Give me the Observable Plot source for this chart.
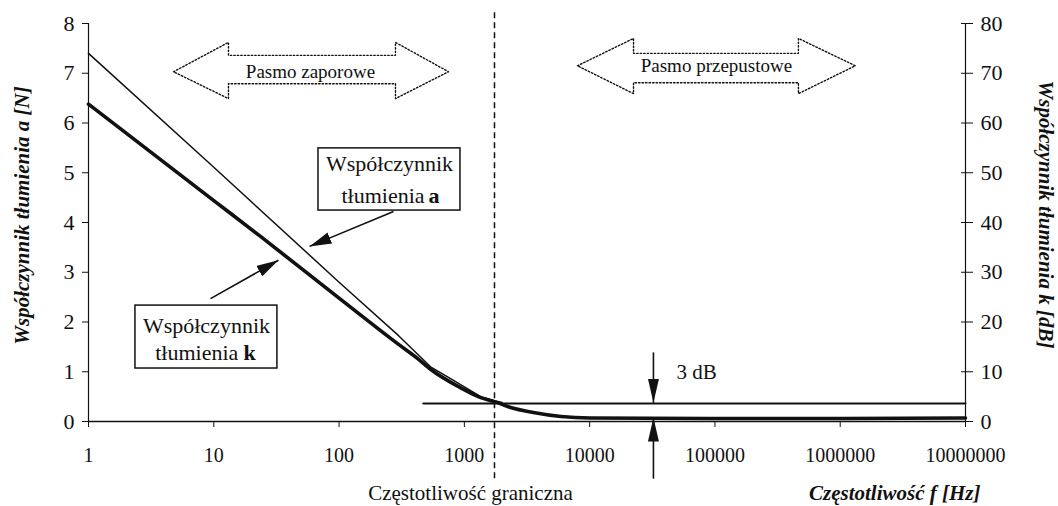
<!DOCTYPE html>
<html><head><meta charset="utf-8">
<script src="https://cdn.jsdelivr.net/npm/d3@7"></script>
<script src="https://cdn.jsdelivr.net/npm/@observablehq/plot@0.6"></script>
<style>body{margin:0;background:#fff} svg{display:block}</style>
</head><body><div id="chart"></div>
<script>
// ---- data ----
const xTicks = [1, 10, 100, 1000, 10000, 100000, 1000000, 10000000];
const yTicksLeft = [0, 1, 2, 3, 4, 5, 6, 7, 8];
const yTicksRight = [0, 10, 20, 30, 40, 50, 60, 70, 80];

// Współczynnik tłumienia a (thin line)
const freqA = [1, 10, 100, 300, 537, 776, 1350, 1740, 2000];
const valA  = [7.4, 5.11, 2.8, 1.72, 1.1, 0.86, 0.5, 0.42, 0.38];

// Współczynnik tłumienia k (thick line)
const freqK = [1, 10, 23.6, 100, 295, 427, 537, 930, 1350, 1740, 2340, 3550, 5900, 10000, 100000, 1000000, 10000000];
const valK  = [6.38, 4.44, 3.72, 2.48, 1.56, 1.26, 1.05, 0.68, 0.48, 0.4, 0.28, 0.18, 0.1, 0.07, 0.06, 0.06, 0.07];

// 3 dB reference line
const freq3dB = [470, 10000000];
const val3dB  = [0.36, 0.36];

// cut-off frequency
const cutoffFreq = 1740;

// ---- annotations (data units) ----
const bandNames = ["Pasmo zaporowe", "Pasmo przepustowe"];
const bandTipL  = [4.77, 7990];
const bandBaseL = [13.1, 22400];
const bandBaseR = [282, 464000];
const bandTipR  = [747, 1320000];
const bandMid   = [7.03, 7.15];
const bandHeadTop = [7.62, 7.70];
const bandHeadBot = [6.49, 6.59];
const bandShaftTop = [7.36, 7.40];
const bandShaftBot = [6.79, 6.81];
const bandTextX = [59.1, 102800];

const boxX1 = [68.5, 2.37], boxX2 = [931, 32.2], boxY1 = [4.24, 1.065], boxY2 = [5.49, 2.33];
const boxLine1X = [253, 8.74], boxLine1Y = [5.17, 1.93];
const boxWordEndX = [481, 15.7], boxLetterX = [517, 17.3], boxLine2Y = [4.54, 1.387];
const boxLetters = ["a", "k"];

const arrowFromX = [272, 9.42], arrowFromY = [4.22, 2.47];
const arrowToX = [58.1, 32.8], arrowToY = [3.52, 3.24];

const dbArrowX = 32300;
const dbArrowFromY = [1.39, -1.15];
const dbArrowToY = [0.375, 0.08];
const dbTextX = 49300, dbTextY = 0.985;
const dashY1 = -1.15, dashY2 = 8.26;

// ---- build tables ----
const lineA = freqA.map((f, i) => ({f, v: valA[i]}));
const lineK = freqK.map((f, i) => ({f, v: valK[i]}));
const line3 = freq3dB.map((f, i) => ({f, v: val3dB[i]}));

const bandPts = [];
bandNames.forEach((name, i) => {
  const pts = [
    [bandTipL[i], bandMid[i]], [bandBaseL[i], bandHeadTop[i]], [bandBaseL[i], bandShaftTop[i]],
    [bandBaseR[i], bandShaftTop[i]], [bandBaseR[i], bandHeadTop[i]], [bandTipR[i], bandMid[i]],
    [bandBaseR[i], bandHeadBot[i]], [bandBaseR[i], bandShaftBot[i]], [bandBaseL[i], bandShaftBot[i]],
    [bandBaseL[i], bandHeadBot[i]], [bandTipL[i], bandMid[i]]
  ];
  pts.forEach(([x, y]) => bandPts.push({band: name, x, y}));
});
const bandText = bandNames.map((t, i) => ({t, x: bandTextX[i], y: bandMid[i]}));
const boxes = boxX1.map((_, i) => ({x1: boxX1[i], x2: boxX2[i], y1: boxY1[i], y2: boxY2[i]}));
const line1 = boxLine1X.map((x, i) => ({x, y: boxLine1Y[i], t: "Współczynnik"}));
const line2 = boxWordEndX.map((x, i) => ({x, y: boxLine2Y[i], t: "tłumienia"}));
const line2b = boxLetterX.map((x, i) => ({x, y: boxLine2Y[i], t: boxLetters[i]}));
const arrows = arrowFromX.map((_, i) => ({x1: arrowFromX[i], y1: arrowFromY[i], x2: arrowToX[i], y2: arrowToY[i]}));
const dbArrows = dbArrowFromY.map((y1, i) => ({x: dbArrowX, y1, y2: dbArrowToY[i]}));

const serif = "'Liberation Serif', 'Times New Roman', serif";
const ink = "#111";

const chart = Plot.plot({
  width: 1058, height: 506,
  marginLeft: 88, marginRight: 93, marginTop: 23, marginBottom: 85,
  x: {type: "log", domain: [1, 10000000]},
  y: {domain: [0, 8]},
  style: {fontFamily: serif, background: "white", color: ink},
  marks: [
    // axes
    Plot.axisX(xTicks, {tickSize: 6, tickPadding: 20, fontSize: 20, tickFormat: d => String(d), label: null, stroke: ink}),
    Plot.axisY(yTicksLeft, {anchor: "left", tickSize: 6, tickPadding: 8, fontSize: 22, label: null, stroke: ink,
      tickFormat: d => String(d)}),
    Plot.axisY(yTicksLeft, {anchor: "right", tickSize: 12, dx: -5, tickPadding: 8, fontSize: 22, label: null, stroke: ink,
      tickFormat: d => String(yTicksRight[yTicksLeft.indexOf(d)])}),
    Plot.ruleX([1, 10000000], {y1: 0, y2: 8, stroke: ink, strokeWidth: 1.2}),
    Plot.ruleY([0], {stroke: ink, strokeWidth: 1.6}),
    // axis titles
    Plot.text(["Współczynnik tłumienia a [N]"], {text: d => d, frameAnchor: "left", textAnchor: "middle", lineAnchor: "middle",
      rotate: -90, dx: -66, dy: -7, fontSize: 21, fontWeight: "bold", fontStyle: "italic", fill: ink}),
    Plot.text(["Współczynnik tłumienia k [dB]"], {text: d => d, frameAnchor: "right", textAnchor: "middle", lineAnchor: "middle",
      rotate: 90, dx: 80, dy: -8, fontSize: 21, fontWeight: "bold", fontStyle: "italic", fill: ink}),
    Plot.text(["Częstotliwość f [Hz]"], {text: d => d, frameAnchor: "bottom-right", textAnchor: "end", lineAnchor: "middle",
      dx: 15, dy: 72, fontSize: 21, fontWeight: "bold", fontStyle: "italic", fill: ink}),
    Plot.text(["Częstotliwość graniczna"], {text: d => d, x: [cutoffFreq], frameAnchor: "bottom", textAnchor: "middle", lineAnchor: "middle",
      dx: -24, dy: 72, fontSize: 21, fill: ink}),
    // cutoff dashed line
    Plot.ruleX([cutoffFreq], {y1: dashY1, y2: dashY2, stroke: ink, strokeWidth: 1.5, strokeDasharray: "6,4"}),
    // curves
    Plot.line(line3, {x: "f", y: "v", stroke: ink, strokeWidth: 2}),
    Plot.line(lineA, {x: "f", y: "v", stroke: ink, strokeWidth: 1.5}),
    Plot.line(lineK, {x: "f", y: "v", stroke: ink, strokeWidth: 3.6, strokeLinejoin: "round", curve: "monotone-x"}),
    // band arrows
    Plot.line(bandPts, {x: "x", y: "y", z: "band", stroke: ink, strokeWidth: 1.4, strokeDasharray: "1.5,2"}),
    Plot.text(bandText, {x: "x", y: "y", text: "t", fontSize: 19, fill: ink}),
    // label boxes
    Plot.rect(boxes, {x1: "x1", x2: "x2", y1: "y1", y2: "y2", fill: "white", stroke: ink, strokeWidth: 1.5}),
    Plot.text(line1, {x: "x", y: "y", text: "t", fontSize: 22, fill: ink}),
    Plot.text(line2, {x: "x", y: "y", text: "t", fontSize: 22, textAnchor: "end", fill: ink}),
    Plot.text(line2b, {x: "x", y: "y", text: "t", fontSize: 22, textAnchor: "start", fontWeight: "bold", fill: ink}),
    // pointer arrows
    Plot.link(arrows, {x1: "x1", y1: "y1", x2: "x2", y2: "y2", stroke: ink, strokeWidth: 1.6}),
    Plot.link(dbArrows, {x1: "x", x2: "x", y1: "y1", y2: "y2", stroke: ink, strokeWidth: 1.6}),
    Plot.text(["3 dB"], {text: d => d, x: [dbTextX], y: [dbTextY], textAnchor: "start", fontSize: 21, fill: ink})
  ]
});

// filled arrow heads
const svg = d3.select(chart);
svg.append("defs").html(
  `<marker id="headBig" viewBox="0 0 10 10" refX="10" refY="5" markerUnits="userSpaceOnUse" markerWidth="22" markerHeight="12" orient="auto" preserveAspectRatio="none"><path d="M0,0L10,5L0,10z" fill="${ink}"/></marker>` +
  `<marker id="headSmall" viewBox="0 0 10 10" refX="10" refY="5" markerUnits="userSpaceOnUse" markerWidth="24" markerHeight="11" orient="auto" preserveAspectRatio="none"><path d="M0,0L10,5L0,10z" fill="${ink}"/></marker>`
);
svg.selectAll('g[aria-label="link"]').each(function(_, i) {
  d3.select(this).selectAll("path").attr("marker-end", i === 0 ? "url(#headBig)" : "url(#headSmall)");
});

document.getElementById("chart").appendChild(chart);
</script>
</body></html>
